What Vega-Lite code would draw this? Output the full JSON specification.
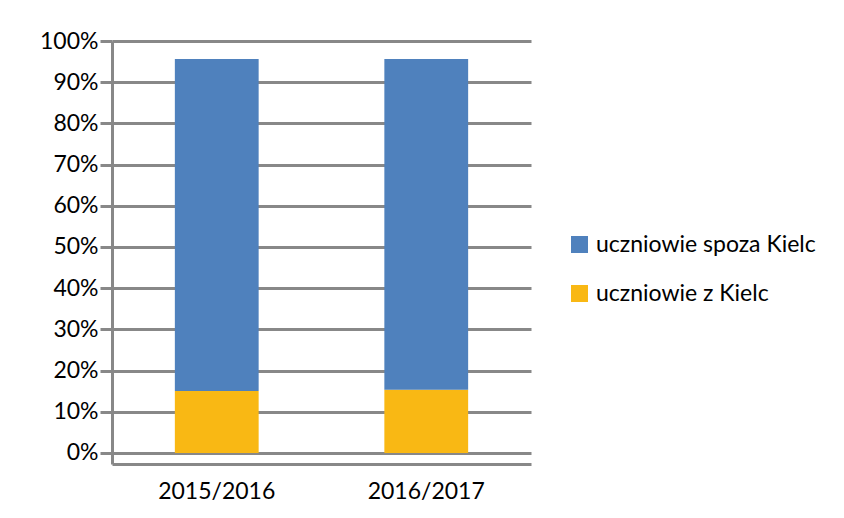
{
  "$schema": "https://vega.github.io/schema/vega-lite/v6.json",
  "autosize": {"type": "none"},
  "width": 419,
  "height": 423,
  "padding": {"left": 112, "top": 41, "right": 313, "bottom": 54},
  "background": "#ffffff",
  "config": {
    "font": "Lato",
    "view": {"stroke": null},
    "axis": {"labelFont": "Lato", "labelFontSize": 23, "labelColor": "#000000", "domainColor": "#888888", "domainWidth": 3, "gridColor": "#888888", "gridWidth": 3, "tickColor": "#888888", "tickWidth": 3, "title": null},
    "legend": {"labelFont": "Lato", "labelFontSize": 23, "labelColor": "#000000", "labelLimit": 300}
  },
  "data": {
    "values": [
      {"year": "2015/2016", "series": "uczniowie z Kielc", "value": 0.150},
      {"year": "2015/2016", "series": "uczniowie spoza Kielc", "value": 0.806},
      {"year": "2016/2017", "series": "uczniowie z Kielc", "value": 0.153},
      {"year": "2016/2017", "series": "uczniowie spoza Kielc", "value": 0.803}
    ]
  },
  "mark": {"type": "bar"},
  "encoding": {
    "x": {
      "field": "year", "type": "nominal", "sort": null,
      "scale": {"paddingInner": 0.6, "paddingOuter": 0.3},
      "axis": {"labelAngle": 0, "ticks": false, "labelPadding": 16, "grid": false}
    },
    "y": {
      "field": "value", "type": "quantitative", "stack": "zero",
      "scale": {"domain": [-0.027, 1], "nice": false, "zero": false},
      "axis": {"values": [0, 0.1, 0.2, 0.3, 0.4, 0.5, 0.6, 0.7, 0.8, 0.9, 1], "format": ".0%", "tickSize": 12, "labelPadding": 2, "grid": true}
    },
    "color": {
      "field": "series", "type": "nominal",
      "scale": {"domain": ["uczniowie spoza Kielc", "uczniowie z Kielc"], "range": ["#4F81BD", "#F9B814"]},
      "legend": {"title": null, "orient": "none", "legendX": 456, "legendY": 192, "symbolType": "square", "symbolSize": 289, "symbolStrokeWidth": 0, "symbolOpacity": 1, "labelOffset": 5, "rowPadding": 25}
    },
    "order": {"field": "series", "sort": "descending"}
  }
}
